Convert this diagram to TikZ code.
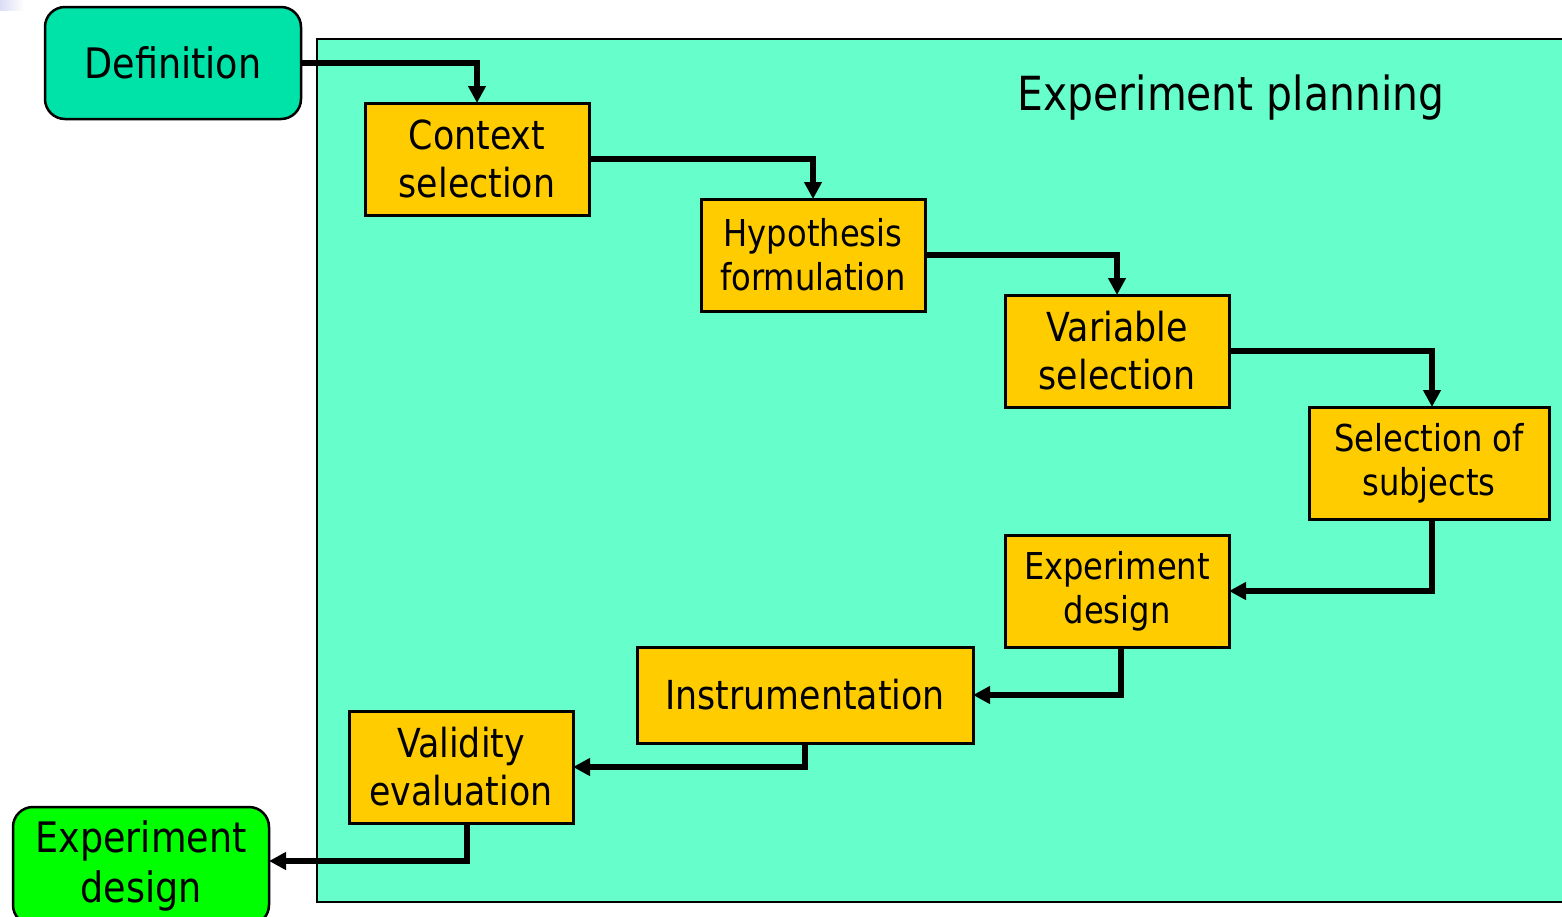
\documentclass[tikz,border=0pt]{standalone}
\usepackage{fontspec}
\setmainfont{DejaVu Sans}[FakeStretch=0.87]
\usetikzlibrary{arrows.meta}
\definecolor{planbg}{HTML}{66FFCC}
\definecolor{defbg}{HTML}{00E3A8}
\definecolor{stepyellow}{HTML}{FFCC00}
\definecolor{outgreen}{HTML}{00FF00}
\definecolor{cornertint}{HTML}{DCDCF6}
\newcommand{\fs}[2]{\fontsize{#1}{#2}\selectfont}
\begin{document}
\begin{tikzpicture}[x=1pt,y=-1pt,
  stepbox/.style={draw=black, line width=3pt, fill=stepyellow, inner sep=0pt,
    outer sep=0pt, align=center, minimum width=224pt, minimum height=112pt},
  endbox/.style={draw=black, line width=2.5pt, rounded corners=20pt, inner sep=0pt,
    outer sep=0pt, align=center, minimum width=256pt},
  flow/.style={line width=5.5pt, -{Triangle[length=17pt,width=17pt]}}
]
\useasboundingbox (0,0) rectangle (1562,916);
\fill[white] (0,0) rectangle (1562,916);
% slide corner tint
\shade[left color=cornertint, right color=white] (0,0) rectangle (24,10);

% planning panel
\path[fill=planbg, draw=black, line width=2.5pt] (317,39) rectangle (1580,902);
\node[font=\fs{47}{56}] (title) at (1231,98) {Experiment planning};

% input and output phases
\node[endbox, fill=defbg, minimum height=112pt, font=\fs{42}{50}] (def) at (173,63) {\raisebox{-2pt}{Definition}};
\node[endbox, fill=outgreen, minimum height=118pt, font=\fs{42}{50}] (grn) at (141,866) {Experiment\\design};

% planning steps
\node[stepbox, font=\fs{40}{48}] (ctx) at (477,159) {Context\\selection};
\node[stepbox, font=\fs{37}{44}] (hyp) at (813,255) {Hypothesis\\formulation};
\node[stepbox, font=\fs{40}{48}] (var) at (1117,351) {Variable\\selection};
\node[stepbox, font=\fs{37}{44}, minimum width=240pt] (sel) at (1429,463) {Selection of\\subjects};
\node[stepbox, font=\fs{37}{44}] (exd) at (1117,591) {Experiment\\design};
\node[stepbox, font=\fs{40}{48}, minimum width=336pt, minimum height=96pt] (ins) at (805,695) {Instrumentation};
\node[stepbox, font=\fs{40}{48}] (val) at (461,767) {Validity\\evaluation};

% flow between steps
\draw[flow] (def.east) -| (ctx.north);
\draw[flow] (ctx.east) -| (hyp.north);
\draw[flow] (hyp.east) -| (var.north);
\draw[flow] (var.east) -| ([xshift=3pt]sel.north);
\draw[flow] ([xshift=3pt]sel.south) |- (exd.east);
\draw[flow] ([xshift=4pt]exd.south) |- (ins.east);
\draw[flow] (ins.south) |- (val.east);
\draw[flow] ([xshift=6pt]val.south) |- ([yshift=5pt]grn.east);
\end{tikzpicture}
\end{document}
